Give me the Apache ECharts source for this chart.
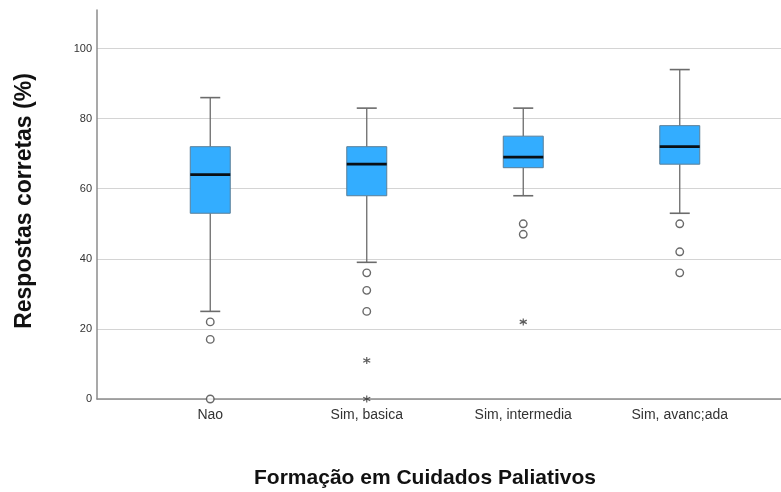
<!DOCTYPE html>
<html>
<head>
<meta charset="utf-8">
<script src="https://cdn.jsdelivr.net/npm/echarts@6/dist/echarts.min.js"></script>
<style>
  html, body { margin: 0; padding: 0; background: #fff; }
  #chart { width: 781px; height: 492px; }
</style>
</head>
<body>
<div id="chart"></div>
<script>
// categorias e estatisticas do boxplot
var categories = ['Nao', 'Sim, basica', 'Sim, intermedia', 'Sim, avanc;ada'];
var whiskerLow  = [25, 39, 58, 53];
var q1          = [53, 58, 66, 67];
var median      = [64, 67, 69, 72];
var q3          = [72, 72, 75, 78];
var whiskerHigh = [86, 83, 83, 94];
// outliers (circulos) e extremos (estrelas): [categoria, valor]
var outliers = [[0, 22], [0, 17], [0, 0], [1, 36], [1, 31], [1, 25], [2, 50], [2, 47], [3, 50], [3, 42], [3, 36]];
var extremes = [[1, 11], [1, 0], [2, 22]];
var yTicks = [0, 20, 40, 60, 80, 100];

var boxData = [];
for (var i = 0; i < categories.length; i++) {
    boxData.push([i, whiskerLow[i], q1[i], median[i], q3[i], whiskerHigh[i]]);
}

var lineColor = '#6b6b6b';
var boxW = 40;
var capW = 20;

function renderBox(params, api) {
    var c = api.value(0);
    var lo = api.coord([c, api.value(1)]);
    var b1 = api.coord([c, api.value(2)]);
    var md = api.coord([c, api.value(3)]);
    var b3 = api.coord([c, api.value(4)]);
    var hi = api.coord([c, api.value(5)]);
    var x = lo[0];
    var ls = { stroke: lineColor, lineWidth: 1.3 };
    return {
        type: 'group',
        children: [
            { type: 'line', shape: { x1: x, y1: lo[1], x2: x, y2: b1[1] }, style: ls },
            { type: 'line', shape: { x1: x, y1: b3[1], x2: x, y2: hi[1] }, style: ls },
            { type: 'line', shape: { x1: x - capW / 2, y1: lo[1], x2: x + capW / 2, y2: lo[1] }, style: { stroke: lineColor, lineWidth: 1.6 } },
            { type: 'line', shape: { x1: x - capW / 2, y1: hi[1], x2: x + capW / 2, y2: hi[1] }, style: { stroke: lineColor, lineWidth: 1.6 } },
            { type: 'rect', shape: { x: x - boxW / 2, y: b3[1], width: boxW, height: b1[1] - b3[1] },
              style: { fill: '#33adff', stroke: '#5a7f99', lineWidth: 1 } },
            { type: 'line', shape: { x1: x - boxW / 2, y1: md[1], x2: x + boxW / 2, y2: md[1] },
              style: { stroke: '#0a0f14', lineWidth: 2.8 } }
        ]
    };
}

var chart = echarts.init(document.getElementById('chart'));
chart.setOption({
    animation: false,
    backgroundColor: '#fff',
    grid: [
        { left: 97, right: 0, top: 10, bottom: 93, outerBoundsMode: 'none', containLabel: false },
        { left: 132, right: 23, top: 10, bottom: 93, outerBoundsMode: 'none', containLabel: false }
    ],
    xAxis: [
        {
            gridIndex: 0, type: 'value', min: 0, max: 1,
            axisLine: { show: true, onZero: false, lineStyle: { color: '#8c8c8c', width: 1.5 } },
            axisTick: { show: false }, axisLabel: { show: false }, splitLine: { show: false },
            name: 'Formação em Cuidados Paliativos',
            nameLocation: 'middle', nameGap: 69,
            nameTextStyle: { fontFamily: 'Liberation Sans', fontWeight: 'bold', fontSize: 21, color: '#111', padding: [0, 28, 0, 0] }
        },
        {
            gridIndex: 1, type: 'category', data: categories, boundaryGap: true,
            axisLine: { show: false }, axisTick: { show: false },
            axisLabel: { fontFamily: 'Liberation Sans', fontSize: 14, color: '#333', margin: 9 },
            splitLine: { show: false }
        }
    ],
    yAxis: [
        {
            gridIndex: 0, type: 'value', min: 0, max: 111, interval: 20,
            axisLine: { show: true, lineStyle: { color: '#8c8c8c', width: 1.5 } },
            axisTick: { show: false },
            axisLabel: {
                fontFamily: 'Liberation Sans', fontSize: 11, color: '#333', margin: 5,
                formatter: function (v) { return yTicks.indexOf(v) >= 0 ? String(v) : ''; }
            },
            splitLine: { show: true, lineStyle: { color: ['#d4d4d4', '#d4d4d4', '#d4d4d4', '#d4d4d4', '#d4d4d4', '#d4d4d4', 'rgba(0,0,0,0)'], width: 1.2 } },
            name: 'Respostas corretas (%)',
            nameLocation: 'middle', nameGap: 61,
            nameTextStyle: { fontFamily: 'Liberation Sans', fontWeight: 'bold', fontSize: 23, color: '#111', padding: [0, 0, 0, 7] }
        },
        {
            gridIndex: 1, type: 'value', min: 0, max: 111, show: false
        }
    ],
    series: [
        {
            type: 'custom', xAxisIndex: 1, yAxisIndex: 1,
            renderItem: renderBox,
            encode: { x: 0, y: [1, 2, 3, 4, 5] },
            data: boxData, z: 3
        },
        {
            type: 'scatter', xAxisIndex: 1, yAxisIndex: 1,
            symbol: 'circle', symbolSize: 7.5,
            itemStyle: { color: '#fff', borderColor: '#444', borderWidth: 1.4 },
            data: outliers, z: 4
        },
        {
            type: 'scatter', xAxisIndex: 1, yAxisIndex: 1,
            symbol: 'path://M0,-5L0,5M-4.3,-2.5L4.3,2.5M-4.3,2.5L4.3,-2.5', symbolSize: 7,
            itemStyle: { color: 'none', borderColor: '#333', borderWidth: 1.2 },
            data: extremes, z: 4
        }
    ]
});
</script>
</body>
</html>
